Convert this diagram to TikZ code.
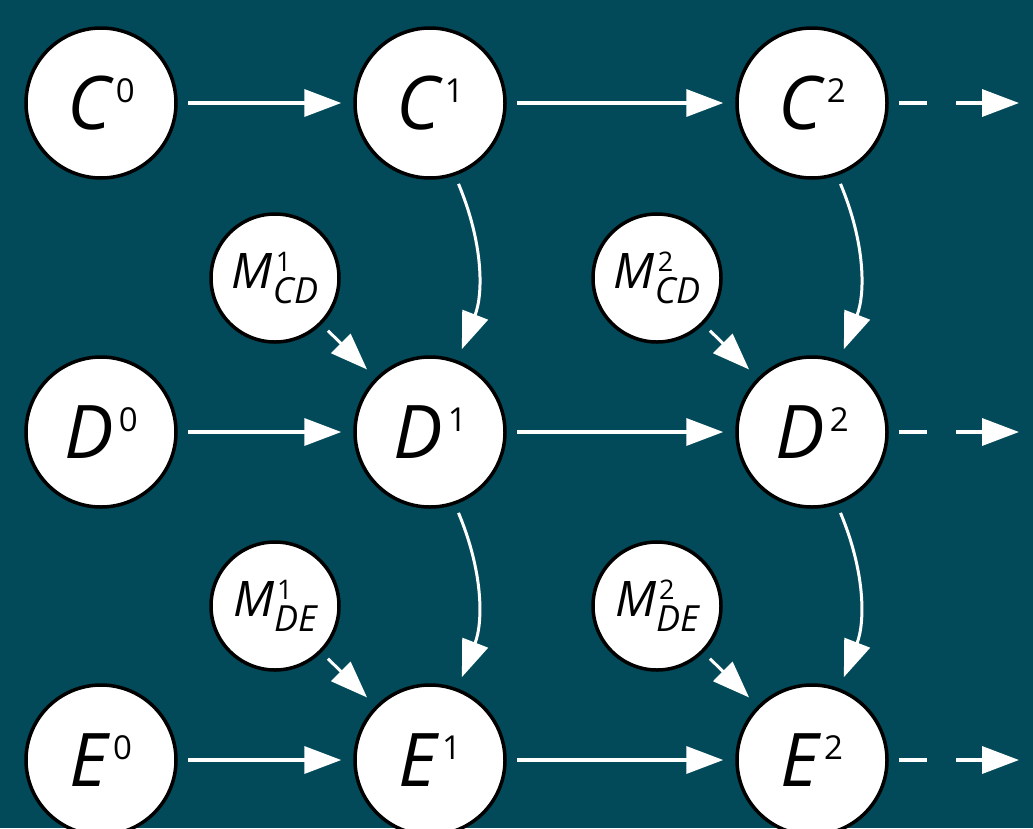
\documentclass[tikz,border=0pt]{standalone}
\usepackage{fontspec}
\setmainfont{Open Sans}
\usetikzlibrary{arrows.meta}
\definecolor{bg}{HTML}{024A59}
\newcommand{\biglab}[2]{{\fontsize{74}{74}\selectfont\itshape #1}\kern5pt\raisebox{27pt}{\fontsize{33}{33}\selectfont #2}}
\newcommand{\mlab}[2]{{\fontsize{49}{49}\selectfont\itshape M}\rlap{\kern3pt\raisebox{17pt}{\fontsize{27}{27}\selectfont #1}}\raisebox{-15pt}{\fontsize{36}{36}\selectfont\itshape #2}}
\tikzset{
  bignode/.style={circle, draw=black, fill=white, line width=3.5pt, minimum size=150pt, inner sep=0pt},
  smallnode/.style={circle, draw=black, fill=white, line width=3.5pt, minimum size=128pt, inner sep=0pt},
  arr/.style={draw=white, line width=3.5pt, -{Triangle[length=37pt,width=27pt]}, shorten <=10pt, shorten >=12pt},
  darr/.style={arr, dash pattern=on 28pt off 29pt},
  carr/.style={draw=white, line width=3pt, -{Triangle[length=37pt,width=27pt]}, shorten <=9pt, shorten >=12pt}
}
\begin{document}
\begin{tikzpicture}[x=1pt,y=-1pt]
\useasboundingbox (0,0) rectangle (1033,828);
\fill[bg] (0,0) rectangle (1033,828);
% big nodes
\node[bignode] (C0) at (101,103) {\biglab{C}{0}};
\node[bignode] (C1) at (430,103) {\biglab{C}{1}};
\node[bignode] (C2) at (812,103) {\biglab{C}{2}};
\node[bignode] (D0) at (101,432) {\biglab{D}{0}};
\node[bignode] (D1) at (430,432) {\biglab{D}{1}};
\node[bignode] (D2) at (812,432) {\biglab{D}{2}};
\node[bignode] (E0) at (101,760) {\biglab{E}{0}};
\node[bignode] (E1) at (430,760) {\biglab{E}{1}};
\node[bignode] (E2) at (812,760) {\biglab{E}{2}};
% small nodes
\node[smallnode] (M1CD) at (275,278) {\mlab{1}{CD}};
\node[smallnode] (M2CD) at (657,278) {\mlab{2}{CD}};
\node[smallnode] (M1DE) at (275,606) {\mlab{1}{DE}};
\node[smallnode] (M2DE) at (657,606) {\mlab{2}{DE}};
% free ends
\coordinate (C3) at (1031,103);
\coordinate (D3) at (1031,432);
\coordinate (E3) at (1031,760);
% horizontal arrows
\draw[arr] (C0) -- (C1);
\draw[arr] (C1) -- (C2);
\draw[darr] (C2) -- (C3);
\draw[arr] (D0) -- (D1);
\draw[arr] (D1) -- (D2);
\draw[darr] (D2) -- (D3);
\draw[arr] (E0) -- (E1);
\draw[arr] (E1) -- (E2);
\draw[darr] (E2) -- (E3);
% curved vertical arrows
\draw[carr] (C1.-71) to[bend left=22] (D1.69);
\draw[carr] (C2.-71) to[bend left=22] (D2.69);
\draw[carr] (D1.-71) to[bend left=22] (E1.69);
\draw[carr] (D2.-71) to[bend left=22] (E2.69);
% diagonal arrows
\draw[carr] (M1CD) -- (D1);
\draw[carr] (M2CD) -- (D2);
\draw[carr] (M1DE) -- (E1);
\draw[carr] (M2DE) -- (E2);
\end{tikzpicture}
\end{document}
